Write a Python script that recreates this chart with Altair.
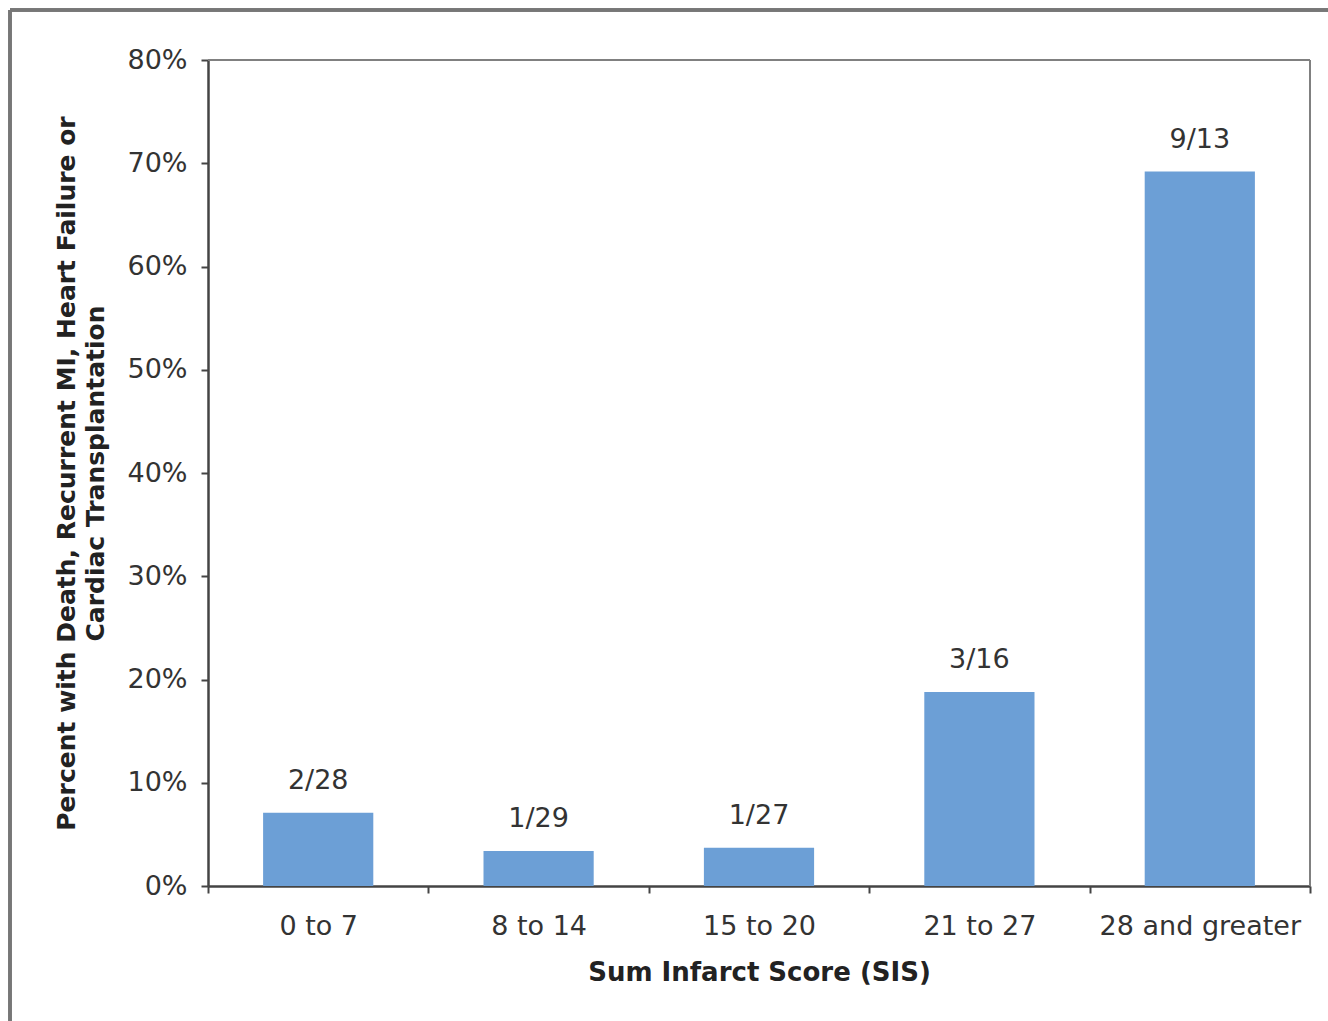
import altair as alt
import pandas as pd

categories = ["0 to 7", "8 to 14", "15 to 20", "21 to 27", "28 and greater"]
events = [2, 1, 1, 3, 9]
totals = [28, 29, 27, 16, 13]
percents = [7.1, 3.4, 3.7, 18.8, 69.2]
labels = [f"{e}/{t}" for e, t in zip(events, totals)]

df = pd.DataFrame({"cat": categories, "pct": [p / 100 for p in percents], "label": labels})

W, H = 1102, 826
FONT = "DejaVu Sans"

x_enc = alt.X("cat:N", sort=categories,
              scale=alt.Scale(paddingInner=0, paddingOuter=0),
              axis=alt.Axis(title="Sum Infarct Score (SIS)", labelAngle=0, tickBand="extent", labelLimit=0,
                            labelFontSize=27, labelColor="#333333", labelFont=FONT, labelPadding=20,
                            titleFontSize=26, titleFont=FONT, titleFontWeight="bold", titleColor="#222222",
                            titlePadding=20, domainColor="#444444", domainWidth=2.5,
                            tickColor="#444444", tickWidth=2, tickSize=7))
y_enc = alt.Y("pct:Q", scale=alt.Scale(domain=[0, 0.8]),
              axis=alt.Axis(format=".0%", values=[i / 10 for i in range(9)], grid=False,
                            title=["Percent with Death, Recurrent MI, Heart Failure or", "Cardiac Transplantation"],
                            labelFontSize=27, labelColor="#333333", labelFont=FONT, labelPadding=14,
                            titleFontSize=25, titleFont=FONT, titleFontWeight="bold", titleColor="#222222",
                            titleLineHeight=29, titlePadding=18, domainColor="#444444", domainWidth=2.5,
                            tickColor="#444444", tickWidth=2, tickSize=7))

bars = alt.Chart(df).mark_bar(color="#6C9FD6", width={"band": 0.5}).encode(x=x_enc, y=y_enc)
text = alt.Chart(df).mark_text(baseline="bottom", dy=-18, fontSize=27, font=FONT, color="#333333").encode(
    x=alt.X("cat:N", sort=categories), y="pct:Q", text="label:N")

top_line = alt.Chart(df).mark_rule(color="#777777", strokeWidth=3).encode(
    x=alt.value(10 - 208), x2=alt.value(1328 - 208), y=alt.value(10 - 60))
left_line = alt.Chart(df).mark_rule(color="#777777", strokeWidth=3).encode(
    x=alt.value(10 - 208), y=alt.value(10 - 60), y2=alt.value(1021 - 60))
frame_top = alt.Chart(df).mark_rule(color="#808080", strokeWidth=2).encode(
    x=alt.value(0), x2=alt.value(W), y=alt.value(0))
frame_right = alt.Chart(df).mark_rule(color="#808080", strokeWidth=2).encode(
    x=alt.value(W), y=alt.value(0), y2=alt.value(H))

chart = alt.layer(top_line, left_line, frame_top, frame_right, bars, text).properties(
    width=W, height=H,
    autosize=alt.AutoSizeParams(type="none"),
    padding={"left": 208, "top": 60, "right": 18, "bottom": 135},
).configure_view(stroke=None).configure(background="white")

chart.save("out.html", embed_options={"renderer": "svg", "actions": False})
